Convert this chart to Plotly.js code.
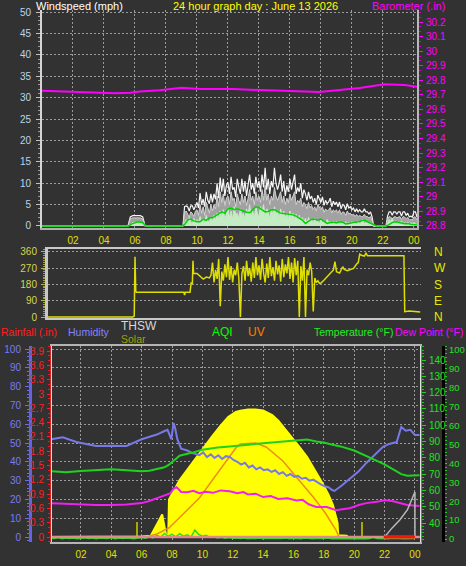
<!DOCTYPE html>
<html><head><meta charset="utf-8">
<script src="https://cdn.plot.ly/plotly-3.0.1.min.js"></script>
<style>html,body{margin:0;padding:0;background:#323232;overflow:hidden}#chart{width:466px;height:566px}</style>
</head><body><div id="chart"></div>
<script>
// ================= DATA =================
const hourTicks = [2,4,6,8,10,12,14,16,18,20,22,24];
const hourTickText = ['02','04','06','08','10','12','14','16','18','20','22','00'];

// ---- Panel 1: wind speed (mph) ----
const windTicks = [0,5,10,15,20,25,30,35,40,45,50];
const windEarlyHours = [0, 5.55, 5.7, 5.85, 6.35, 6.5, 6.65, 9.1];
const gustEarly  = [0, 0, 2.1, 2.4, 2.4, 2.1, 0, 0];
const speedEarly = [0, 0, 1.7, 1.9, 1.9, 1.6, 0, 0];
const lightEarly = [0, 0, 0.3, 0.8, 0.8, 0.3, 0, 0];
const windLateStart = 9.2, windLateStep = 0.1;
const gustLate = [4.5,4.7,4.5,3.5,4.7,4.7,3.8,4.7,
 5.5,4.2,7.7,5.0,6.3,4.5,8.0,6.0,5.2,7.5,
 5.5,7.5,6.2,10.0,6.5,11.3,8.0,11.0,7.0,9.5,
 10.2,7.5,11.5,8.5,9.0,6.8,11.0,9.0,7.5,11.0,
 8.0,10.5,7.0,9.6,12.0,8.5,10.0,7.5,11.5,9.0,
 10.5,8.0,12.0,9.0,13.6,8.5,11.0,7.5,10.5,9.0,
 13.6,10.0,8.5,9.9,12.0,8.0,10.5,7.0,9.5,8.0,
 11.0,8.5,10.8,12.0,7.5,9.0,8.0,10.0,6.5,8.5,
 7.5,6.0,8.0,6.3,7.0,5.5,6.5,5.0,7.2,6.3,
 5.5,6.8,4.8,6.0,5.2,5.6,6.5,4.5,5.8,5.0,
 5.6,4.5,5.6,4.0,5.0,4.8,3.8,5.2,4.2,4.5,
 3.8,4.2,3.3,4.0,3.3,3.8,3.3,3.3,4.0,3.3,
 3.3,2.8,3.3,2.1,0,0,0,0,0,0,
 0,0,0,2.3,3.3,3.3,2.5,3.3,3.3,2.8,
 3.3,3.3,2.3,3.3,3.3,2.5,3.0,2.1,2.3,2.1,
 3.3,3.3,2.1];
const speedLate = [3.0,3.5,2.8,2.0,3.3,3.0,2.2,3.5,
 3.8,2.5,5.0,3.0,4.5,2.5,5.5,4.0,3.0,5.0,
 3.5,5.0,4.0,7.0,4.5,8.0,5.5,7.5,4.8,6.5,
 7.0,5.0,8.0,6.0,6.5,4.5,7.5,6.0,5.0,7.5,
 5.5,7.0,4.8,6.5,8.5,6.0,7.0,5.0,8.0,6.0,
 7.0,5.5,8.5,6.0,9.5,6.0,7.5,5.0,7.0,6.0,
 9.0,7.0,6.0,7.0,8.0,5.5,7.0,5.0,6.5,5.5,
 7.5,6.0,7.0,8.0,5.0,6.0,5.5,6.5,4.5,5.5,
 5.0,4.0,5.5,4.2,4.8,3.8,4.5,3.5,5.0,4.2,
 3.8,4.5,3.2,4.0,3.5,3.8,4.3,3.0,3.8,3.3,
 3.8,3.0,3.8,2.7,3.3,3.2,2.5,3.5,2.8,3.0,
 2.5,2.8,2.2,2.7,2.2,2.5,2.2,2.2,2.7,2.2,
 2.2,1.9,2.2,1.4,0,0,0,0,0,0,
 0,0,0,1.5,2.2,2.1,1.7,2.1,2.2,1.9,
 2.1,2.2,1.5,2.2,2.1,1.7,2.0,1.4,1.5,1.4,
 2.1,2.1,1.4];
const lightLate = [0.8,1.5,0.5,2.0,1.0,0.3,1.8,0.8,
 1.5,0.5,2.2,1.0,1.8,0.5,2.5,1.2,0.8,2.0,
 1.0,2.5,1.2,3.0,1.5,3.5,2.0,3.8,1.5,3.0,
 4.0,2.0,3.5,1.5,4.5,2.5,3.0,1.8,4.0,2.5,
 3.0,1.5,4.0,2.5,5.0,2.0,3.5,1.8,4.5,3.0,
 2.0,4.5,3.0,5.0,2.0,4.0,3.5,1.5,4.0,2.5,
 4.5,2.5,3.5,1.5,4.0,2.0,3.5,1.8,3.0,1.5,
 3.5,2.0,3.0,1.5,2.8,1.2,2.5,1.0,2.0,0.8,
 1.8,0.5,2.0,1.0,1.5,0.5,1.8,0.8,1.2,0.5,
 1.5,0.8,1.2,0.3,1.5,0.8,1.0,0.3,1.2,0.5,
 1.0,0.3,1.2,0.5,0.8,0.3,1.0,0.5,0.8,0.3,
 1.0,0.5,0.8,0.3,1.2,0.5,0.8,1.5,0.5,0.8,
 1.0,0.3,0.8,0.3,0,0,0,0,0,0,
 0,0,0,0.5,1.5,1.0,1.8,0.8,1.2,0.5,
 1.0,0.5,1.2,0.3,0.8,0.5,1.0,0.3,0.8,0.5,
 0.8,0.5,0.3];
const avgEarlyHours = [0, 5.6, 5.8, 6.2, 6.5, 6.7, 9.0];
const avgEarly = [0, 0, 0.5, 1.0, 0.8, 0, 0];
const avgLateStart = 9.2, avgLateStep = 0.2;
const avgLate = [0.3,1.4,1.6,1.2,1.0,1.0,1.6,1.3,1.9,1.9,
 2.4,2.8,3.3,3.0,4.0,4.2,3.8,4.0,3.8,3.5,
 3.2,3.1,3.8,4.5,4.3,3.8,3.3,3.4,3.8,3.8,
 3.3,3.0,2.9,2.8,2.8,2.6,2.3,1.8,1.4,0.6,
 1.2,1.6,1.6,1.4,1.6,1.2,0.6,0.8,0.9,0.7,
 1.0,0.9,0.5,0.6,0.8,0.9,1.0,1.2,1.4,1.0,
 0.6,0.2,0,0,0,0,0.3,0.8,1.0,0.9,
 0.7,0.5,0.6,0.4,0.3,0.2];

// ---- Panel 1: barometer (inHg) ----
const baroTicks = [28.8,28.9,29.0,29.1,29.2,29.3,29.4,29.5,29.6,29.7,29.8,29.9,30.0,30.1,30.2];
const baroTickText = ['28.8','28.9','29','29.1','29.2','29.3','29.4','29.5','29.6','29.7','29.8','29.9','30','30.1','30.2'];
const baroHours = [0, 2.45, 3.7, 4.7, 5.7, 6.3, 7.6, 9.0, 10.2, 12.3, 14.1, 16.0, 17.9, 19.2, 20.5, 22.1, 23.4, 24.2];
const baro = [29.729, 29.722, 29.716, 29.711, 29.715, 29.723, 29.731, 29.749, 29.740, 29.740, 29.733, 29.727, 29.720, 29.733, 29.747, 29.773, 29.768, 29.756];

// ---- Panel 2: wind direction (degrees) ----
const dirTicks = [0, 90, 180, 270, 360];
const dirCompass = ['N', 'E', 'S', 'W', 'N'];
const dirEarlyHours = [0, 5.85, 5.95, 6.0, 6.05, 6.1, 9.15, 9.2, 9.25, 9.55, 9.62, 9.7, 9.74, 9.78, 10.0, 10.2, 10.4, 10.6, 10.8];
const dirEarly = [0, 0, 5, 332, 140, 136, 136, 121, 136, 136, 187, 182, 310, 241, 240, 222, 209, 220, 215];
const dirMidStart = 10.9, dirMidStep = 0.1;
const dirMid = [230,300,190,260,210,320,60,250,200,290,
 220,330,205,280,190,260,230,300,210,0,
 240,280,200,310,225,270,195,300,215,330,
 230,285,205,320,240,190,295,215,330,225,
 275,200,310,235,285,195,320,220,290,240,
 330,210,300,190,325,230,310,0,280,200,
 330,0,260,230,300,250,30,215,190,200,185];
const dirLateHours = [18.0, 18.2, 18.5, 18.8, 18.9, 19.0, 19.2, 19.4, 19.5, 19.7, 19.9, 20.1, 20.3, 20.4, 20.5, 20.6, 20.8, 20.9, 21.0, 23.35, 23.4, 23.7, 24.4];
const dirLate = [187, 204, 230, 259, 305, 250, 242, 277, 262, 255, 262, 268, 292, 300, 347, 340, 336, 351, 338, 338, 29, 33, 28];

// ---- Panel 3 ----
const humTicks = [0,10,20,30,40,50,60,70,80,90,100];
const rainTicks = [0,0.3,0.6,0.9,1.2,1.5,1.8,2.1,2.4,2.7,3.0,3.3,3.6,3.9];
const rainTickText = ['0','0.3','0.6','0.9','1.2','1.5','1.8','2.1','2.4','2.7','3','3.3','3.6','3.9'];
const tempTicks = [40,50,60,70,80,90,100,110,120,130,140];
const aqiTicks = [0,10,20,30,40,50,60,70,80,90,100];

const solarHours = [0, 5.95, 6.0, 6.6, 6.8, 7.0, 7.35, 7.5, 7.6, 7.75, 7.8, 8.5, 9.0, 9.6, 10.6, 11.2, 11.7, 12.2, 12.5, 13.0, 13.5, 14.0, 14.3, 14.6, 15.0, 15.5, 16.0, 16.4, 16.9, 17.3, 17.6, 17.9, 18.3, 18.6, 18.9, 18.95, 19.5, 19.6, 24.3];
const solar = [0, 0, 5, 10, 50, 100, 180, 70, 20, 15, 300, 456, 540, 640, 800, 890, 960, 1000, 1010, 1020, 1020, 1012, 995, 976, 930, 856, 785, 720, 640, 560, 500, 432, 340, 256, 112, 15, 10, 0, 0];
const solarSpikeHours = [5.67, 20.5];
const solarSpike = [120, 120];

const uvHours = [6.3, 7.0, 7.8, 8.5, 9.2, 9.8, 10.7, 11.8, 12.2, 12.5, 13.1, 13.5, 14.2, 15.3, 16.3, 17.3, 18.1, 18.8, 19.0];
const uv = [0, 0.3, 0.9, 2.0, 3.0, 3.9, 5.8, 8.0, 8.9, 9.3, 9.4, 9.4, 9.0, 7.6, 5.8, 4.0, 2.4, 0.7, 0];

const humHours = [0.05, 0.8, 1.7, 3, 4, 5, 6, 7, 7.4, 7.7, 7.85, 7.95, 8.1, 8.2, 8.35, 8.6, 9, 9.4, 9.8,
 10.05, 10.3, 10.55, 10.8, 11.05, 11.3, 11.55, 11.8, 12.05, 12.3, 12.55, 12.8, 13.05, 13.3, 13.55, 13.8, 14.05, 14.3, 14.55, 14.8,
 15.05, 15.3, 15.55, 15.8, 16.05, 16.3, 16.55, 16.8, 17.05, 17.3, 17.55, 17.8, 18.05, 18.3, 18.55, 18.7,
 19.2, 19.7, 20.3, 20.8, 21.4, 21.9, 22.3, 22.8, 23.1, 23.4, 23.7, 24.0, 24.3];
const humidity = [52, 53, 50.5, 48.4, 48.6, 48.4, 52, 54.5, 56, 57, 54, 52, 60.6, 58, 52, 47, 46, 44.5, 43.6,
 45, 42.5, 44, 42, 43.5, 41.5, 43, 42.6, 41, 40, 38.5, 39.5, 37, 38, 36, 37, 35.5, 36, 34.6, 35.5,
 33.5, 34.5, 32.5, 33.5, 32, 32.5, 31, 31.5, 30, 30.5, 29, 28, 27, 26.5, 25, 24.5,
 27.5, 31, 35, 39.4, 44, 48, 49.5, 50.5, 58.5, 56.5, 57, 54.3, 54.3];

const tempHours = [0.05, 1, 2, 3, 4, 5, 6, 6.5, 7, 7.5, 7.8, 8.1, 8.5, 9, 9.4, 10, 10.5, 11, 11.8, 12.5, 13, 14, 15, 16, 16.9, 17.5, 18, 18.5, 19.1, 20, 21.1, 22, 23.1, 23.5, 24.3];
const temperature = [71.7, 71.2, 71.9, 72.5, 73.0, 72.4, 71.7, 72.0, 73.2, 74.2, 75.8, 78.0, 81.3, 82.5, 83.3, 85.0, 85.8, 86.3, 87.0, 87.8, 88.0, 89.0, 89.6, 90.2, 91.2, 90.0, 89.4, 88.2, 87.0, 84.5, 79.6, 76.0, 70.0, 69.0, 69.3];

const dewHours = [0.05, 1, 2, 3, 4, 5, 6, 6.5, 7.2, 7.6, 7.9, 8.1, 8.3, 8.6, 9, 9.4, 9.8, 10.2, 10.7, 11.2, 11.8, 12.3, 12.7, 13, 13.5, 14, 14.5, 15, 15.6, 16.2, 16.6, 17, 17.5, 18.2, 18.8, 19.2, 19.7, 20.3, 20.8, 21.5, 22, 22.5, 23, 23.5, 24.3];
const dewPoint = [52.2, 51.8, 51.2, 51.0, 51.0, 51.3, 52.2, 53.5, 55.9, 57.0, 58.3, 61.0, 62.0, 59.0, 58.9, 59.8, 58.3, 59.2, 58.5, 60.0, 59.5, 58.3, 59.0, 57.5, 58.0, 55.9, 56.5, 54.8, 55.2, 53.8, 54.2, 51.5, 49.8, 49.8, 47.9, 48.5, 49.1, 51.0, 52.2, 53.0, 54.0, 53.5, 52.2, 51.0, 50.4];

const thswHours = [21.95, 22.5, 23.0, 23.5, 24.0, 24.0];
const thsw = [30.8, 37, 41.8, 48, 59, 30.8];

const aqiStart = 0, aqiStep = 0.25;
const aqi = [0.5,0.3,0.8,0.2,0.5,0.3,0.6,0.2,0.4,0.7,0.3,0.5,0.2,0.6,0.4,0.3,0.8,0.2,0.5,0.3,0.6,0.4,0.2,0.5,
 0.8,0.5,1.2,0.6,2.0,1.0,3.0,1.5,2.5,1.2,2.8,1.5,2.2,1.0,4.8,2.5,
 1.5,2.0,0.8,1.2,0.6,1.0,0.5,0.8,0.4,0.6,
 0.3,0.5,0.2,0.4,0.3,0.6,0.2,0.4,0.3,0.5,
 0.2,0.3,0.5,0.2,0.4,0.3,0.2,0.5,0.3,0.2,
 0.4,0.2,0.3,0.5,0.2,0.3,0.2,0.4,0.2,0.3,
 0.2,0.4,0.3,0.2,0.3,1.0,0.3,0.2,0.3,0.2,
 0.4,0.2,0.3,0.2,0.3,0.2,0.3];

const rainHours = [0, 24.3];
const rainfall = [0, 0];
const rainRateHours = [21.95, 24.0];
const rainRate = [0, 0];

// ================= BUILD =================
const seq = (start, step, n) => Array.from({length:n}, (_, i) => +(start + i*step).toFixed(3));
const windHours = windEarlyHours.concat(seq(windLateStart, windLateStep, gustLate.length));
const gust = gustEarly.concat(gustLate);
const speed = speedEarly.concat(speedLate);
const light = lightEarly.concat(lightLate);
const avgHours = avgEarlyHours.concat(seq(avgLateStart, avgLateStep, avgLate.length));
const avg = avgEarly.concat(avgLate);
const dirHours = dirEarlyHours.concat(seq(dirMidStart, dirMidStep, dirMid.length), dirLateHours);
const dir = dirEarly.concat(dirMid, dirLate);
const aqiHours = seq(aqiStart, aqiStep, aqi.length);

const W = 466, H = 566;
const px = v => v / W, py = v => 1 - v / H;
const NARROW = 'Liberation Sans Narrow, Liberation Sans, Arial, sans-serif';
const SANS = 'Liberation Sans, Arial, sans-serif';
const GRID = '#9a9a9a', GDASH = '2px,2px';
const tf = (c, s) => ({family: NARROW, size: s || 10, color: c});

const traces = [
  // panel 1
  {x: windHours, y: gust, xaxis:'x', yaxis:'y', mode:'lines', line:{color:'#f6f6f6', width:1.2}},
  {x: windHours, y: speed, xaxis:'x', yaxis:'y', mode:'lines', fill:'tozeroy', fillcolor:'#a2a2a2', line:{color:'#d0d0d0', width:1}},
  {x: windHours, y: light, xaxis:'x', yaxis:'y', mode:'lines', fill:'tozeroy', fillcolor:'#c4ecc4', line:{color:'#c4ecc4', width:1}},
  {x: avgHours, y: avg, xaxis:'x', yaxis:'y', mode:'lines', line:{color:'#00d400', width:1.5}},
  {x: baroHours, y: baro, xaxis:'x', yaxis:'y2', mode:'lines', line:{color:'#ff00ff', width:2}},
  // panel 2
  {x: dirHours, y: dir, xaxis:'x2', yaxis:'y3', mode:'lines', line:{color:'#dede00', width:1.5}},
  {x: [], y: [], xaxis:'x2', yaxis:'y10', mode:'lines'},
  // panel 3
  {x: solarHours, y: solar, xaxis:'x3', yaxis:'y4', mode:'lines', fill:'tozeroy', fillcolor:'#ffff00', line:{color:'#ffff00', width:2}},
  {x: solarSpikeHours, y: solarSpike, xaxis:'x3', yaxis:'y4', type:'bar', width:0.12, marker:{color:'#a8a800', line:{width:0}}},
  {x: uvHours, y: uv, xaxis:'x3', yaxis:'y5', mode:'lines', line:{color:'#f08a1c', width:1.5}},
  {x: humHours, y: humidity, xaxis:'x3', yaxis:'y6', mode:'lines', line:{color:'#7878e6', width:2}},
  {x: tempHours, y: temperature, xaxis:'x3', yaxis:'y7', mode:'lines', line:{color:'#1ed21e', width:2}},
  {x: dewHours, y: dewPoint, xaxis:'x3', yaxis:'y7', mode:'lines', line:{color:'#f020f0', width:2}},
  {x: thswHours, y: thsw, xaxis:'x3', yaxis:'y7', mode:'lines', line:{color:'#b8b8b8', width:1.5}},
  {x: aqiHours, y: aqi, xaxis:'x3', yaxis:'y8', mode:'lines', line:{color:'#22e022', width:1.5}},
  {x: rainHours, y: rainfall, xaxis:'x3', yaxis:'y9', mode:'lines', line:{color:'#e08a8a', width:2.5}},
  {x: rainRateHours, y: rainRate, xaxis:'x3', yaxis:'y9', mode:'lines', line:{color:'#ff1010', width:3}}
];

const ann = (t, x, y, c, s) => ({text: t, x: px(x), y: py(y), xref:'paper', yref:'paper', xanchor:'left', yanchor:'middle', showarrow:false, borderpad:0, font:{family: SANS, size: s || 11, color: c}});

const layout = {
  width: W, height: H, margin:{l:0, r:0, t:0, b:0},
  paper_bgcolor:'#323232', plot_bgcolor:'#323232', showlegend:false, bargap:0,
  xaxis:{domain:[px(42), px(417)], range:[0, 24.2], anchor:'y', tickmode:'array', tickvals:hourTicks, ticktext:hourTickText,
    tickfont:tf('#e0e000'), ticks:'', ticklabelstandoff:2, showgrid:true, gridcolor:GRID, griddash:GDASH, gridwidth:1,
    showline:true, linecolor:'#b0b0b0', linewidth:2, zeroline:false, fixedrange:true},
  yaxis:{domain:[py(228), py(10)], range:[-0.47, 50.47], anchor:'x', tickmode:'array', tickvals:windTicks,
    tickfont:tf('#b8d4ee'), ticks:'outside', ticklen:4, tickcolor:'#c0c0c0', ticklabelstandoff:3,
    minor:{tickmode:'linear', tick0:0, dtick:1, ticks:'outside', ticklen:2, tickcolor:'#9a9a9a'},
    showgrid:true, gridcolor:GRID, griddash:GDASH, showline:true, linecolor:'#d4d4d4', linewidth:2, zeroline:false},
  yaxis2:{overlaying:'y', side:'right', anchor:'x', range:[28.786, 30.2825], tickmode:'array', tickvals:baroTicks, ticktext:baroTickText,
    tickfont:tf('#ff00ff'), ticks:'outside', ticklen:4, tickcolor:'#ff00ff', ticklabelstandoff:1,
    minor:{tickmode:'linear', tick0:28.8, dtick:0.1/3, ticks:'outside', ticklen:2, tickcolor:'#d000d0'},
    showgrid:false, showline:true, linecolor:'#b8b8b8', linewidth:2, zeroline:false},

  xaxis2:{domain:[px(48), px(421)], range:[(48-42)/15.5, (421-42)/15.5], anchor:'y3', showticklabels:false, ticks:'',
    showgrid:false, showline:true, mirror:true, linecolor:'#c8c8c8', linewidth:2, zeroline:false},
  yaxis3:{domain:[py(318), py(249)], range:[-5.5, 374.7], anchor:'x2', tickmode:'array', tickvals:dirTicks,
    tickfont:tf('#d6d650'), ticks:'outside', ticklen:4, tickcolor:'#b4b440', ticklabelstandoff:2,
    minor:{tickmode:'linear', tick0:0, dtick:10, ticks:'outside', ticklen:2, tickcolor:'#a0a040'},
    showgrid:true, gridcolor:GRID, griddash:GDASH, showline:true, linecolor:'#c8c8c8', linewidth:3, zeroline:false},
  yaxis10:{overlaying:'y3', side:'right', anchor:'x2', range:[-5.5, 374.7], tickmode:'array', tickvals:dirTicks, ticktext:dirCompass,
    tickfont:{family:SANS, size:12, color:'#e8e800'}, ticks:'', ticklabelstandoff:12, showgrid:false, showline:false, zeroline:false},

  xaxis3:{domain:[px(52), px(420)], range:[(52-50.6)/15.18, (420-50.6)/15.18], anchor:'y4', tickmode:'array', tickvals:hourTicks, ticktext:hourTickText,
    tickfont:tf('#e0e000'), ticks:'', ticklabelstandoff:2, showgrid:true, gridcolor:GRID, griddash:GDASH,
    showline:true, mirror:true, linecolor:'#b4b4b4', linewidth:2, zeroline:false},
  yaxis4:{domain:[py(542), py(346)], range:[-40, 1528], anchor:'x3', showticklabels:false, ticks:'', showgrid:false, zeroline:false,
    showline:true, mirror:true, linecolor:'#e4e4e4', linewidth:2},
  yaxis5:{overlaying:'y4', range:[-0.5, 19.1], visible:false},
  yaxis6:{overlaying:'y4', anchor:'free', position:px(30), side:'left', range:[-2.66, 101.6], tickmode:'array', tickvals:humTicks,
    tickfont:tf('#7a7af2'), ticks:'outside', ticklen:4, tickcolor:'#6c6ce8', ticklabelstandoff:2,
    minor:{tickmode:'linear', tick0:0, dtick:2, ticks:'outside', ticklen:2, tickcolor:'#6c6ce8'},
    showgrid:true, gridcolor:GRID, griddash:GDASH, showline:true, linecolor:'#6464e0', linewidth:3, zeroline:false},
  yaxis7:{overlaying:'y4', anchor:'free', position:px(421), side:'right', range:[28.34, 148.6], tickmode:'array', tickvals:tempTicks,
    tickfont:tf('#22e022'), ticks:'outside', ticklen:4, tickcolor:'#22d022', ticklabelstandoff:1,
    minor:{tickmode:'linear', tick0:0, dtick:2, ticks:'outside', ticklen:2, tickcolor:'#22c022'},
    showgrid:false, showline:true, linecolor:'#20b020', linewidth:1, zeroline:false},
  yaxis8:{overlaying:'y4', anchor:'free', position:px(443), side:'right', range:[-1.55, 102], tickmode:'array', tickvals:aqiTicks,
    tickfont:tf('#22e022', 9.5), ticks:'outside', ticklen:2, tickcolor:'#22d022', ticklabelstandoff:0, ticklabeloverflow:'allow',
    minor:{tickmode:'linear', tick0:0, dtick:2, ticks:'outside', ticklen:2, tickcolor:'#22c022'},
    showgrid:false, showline:true, linecolor:'#000000', linewidth:3, zeroline:false},
  yaxis9:{overlaying:'y4', anchor:'free', position:px(50), side:'left', range:[-0.105, 4.007], tickmode:'array', tickvals:rainTicks, ticktext:rainTickText,
    tickfont:tf('#ff2020'), ticks:'outside', ticklen:3, tickcolor:'#ff2020', ticklabelstandoff:1,
    minor:{tickmode:'linear', tick0:0, dtick:0.1, ticks:'outside', ticklen:2, tickcolor:'#e02020'},
    showgrid:false, showline:true, linecolor:'#e02020', linewidth:1, zeroline:false},

  annotations:[
    ann('Windspeed (mph)', 35, 6, '#ffffff'),
    ann('24 hour graph day : June 13 2026', 172, 6, '#ffff00'),
    ann('Barometer (.in)', 371, 6, '#ff00ff'),
    ann('Rainfall (.in)', 0, 332, '#ff2020', 10.5),
    ann('Humidity', 67, 332, '#8484ff', 10.5),
    ann('THSW', 120, 326, '#d8d8d8', 12),
    ann('Solar', 120, 339, '#a0a000', 10.5),
    ann('AQI', 211, 332, '#00ff00', 12),
    ann('UV', 247, 332, '#ff8000', 12),
    ann('Temperature (°F)', 313, 332, '#22ee22', 10.5),
    ann('Dew Point (°F)', 394, 332, '#ff00ff', 10.5)
  ]
};

Plotly.newPlot('chart', traces, layout, {staticPlot:true, displayModeBar:false});
</script>
</body></html>
